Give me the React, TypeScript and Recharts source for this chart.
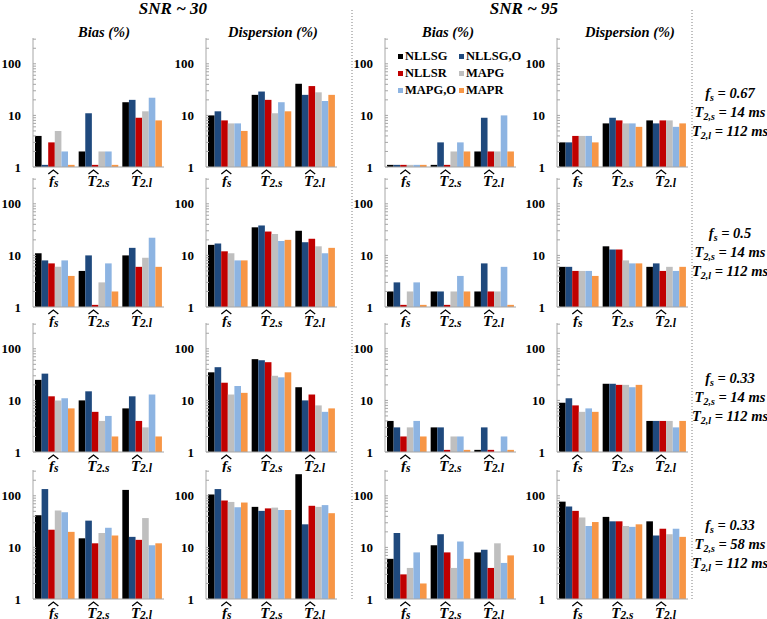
import React from 'react';
import { BarChart, Bar, XAxis, YAxis, Legend } from 'recharts';

const SERIES = ['NLLSG', 'NLLSG,O', 'NLLSR', 'MAPG', 'MAPG,O', 'MAPR'];
const COLORS = ['#000000', '#1F497D', '#C00000', '#BFBFBF', '#8DB4E2', '#F79646'];
const CATEGORIES = ['fs', 'T2s', 'T2l'];
const Y_TICKS = [1, 2, 3, 4, 5, 6, 7, 8, 9, 10, 20, 30, 40, 50, 60, 70, 80, 90, 100, 200, 300];
const Y_LABELS = [1, 10, 100];

const SNR_TITLES = ['SNR ~ 30', 'SNR ~ 95'];
const COLUMN_TITLES = ['Bias (%)', 'Dispersion (%)', 'Bias (%)', 'Dispersion (%)'];

// simulation parameters, one per row
const FS_VALUES = ['0.67', '0.5', '0.33', '0.33'];
const T2S_VALUES = ['14', '14', '14', '58'];
const T2L_VALUES = ['112', '112', '112', '112'];

// each panel: [f_s, T2,s, T2,l] x [NLLSG, NLLSG,O, NLLSR, MAPG, MAPG,O, MAPR]
const bias30Row1 = [[4, 1.1, 3, 5, 2, 1.1], [2, 11, 1.1, 2, 2, 1.1], [18, 20, 9, 12, 22, 8]];
const disp30Row1 = [[10, 12, 8, 7, 7, 5], [25, 29, 20, 11, 18, 12], [41, 25, 37, 28, 19, 25]];
const bias95Row1 = [[1.1, 1.1, 1.1, 1.1, 1.1, 1.1], [1.1, 3, 1.1, 2, 3, 2], [2, 9, 2, 2, 10, 2]];
const disp95Row1 = [[3, 3, 4, 4, 4, 3], [7, 9, 8, 7, 7, 6], [8, 7, 8, 8, 6, 7]];

const bias30Row2 = [[11, 8, 7, 6, 8, 4], [5, 10, 1.1, 3, 7, 2], [10, 14, 6, 9, 22, 6]];
const disp30Row2 = [[16, 17, 12, 11, 8, 8], [35, 38, 29, 26, 19, 20], [30, 18, 21, 15, 11, 14]];
const bias95Row2 = [[2, 3, 1.1, 2, 3, 1.1], [2, 2, 1.1, 2, 4, 2], [2, 7, 2, 2, 6, 1.1]];
const disp95Row2 = [[6, 6, 5, 5, 5, 4], [15, 13, 13, 8, 7, 7], [6, 7, 5, 6, 5, 6]];

const bias30Row3 = [[25, 33, 12, 10, 11, 7], [10, 15, 6, 4, 5, 2], [7, 12, 4, 3, 13, 2]];
const disp30Row3 = [[35, 44, 22, 13, 19, 14], [63, 60, 55, 30, 28, 35], [18, 10, 13, 8, 6, 7]];
const bias95Row3 = [[4, 3, 2, 3, 4, 2], [3, 3, 1.1, 2, 2, 1.1], [1.1, 3, 1.1, 1, 2, 1.1]];
const disp95Row3 = [[9, 11, 8, 6, 7, 6], [21, 21, 20, 20, 18, 20], [4, 4, 4, 4, 3, 4]];

const bias30Row4 = [[42, 135, 22, 52, 48, 20], [15, 33, 12, 19, 24, 17], [130, 16, 14, 37, 11, 12]];
const disp30Row4 = [[106, 135, 81, 76, 60, 74], [61, 51, 57, 59, 53, 53], [262, 28, 64, 61, 66, 46]];
const bias95Row4 = [[6, 19, 3, 4, 8, 2], [11, 18, 8, 4, 13, 6], [8, 9, 4, 12, 5, 7]];
const disp95Row4 = [[77, 62, 51, 38, 26, 31], [39, 32, 32, 26, 25, 28], [32, 17, 23, 18, 23, 16]];

const PANELS = [
  [bias30Row1, disp30Row1, bias95Row1, disp95Row1],
  [bias30Row2, disp30Row2, bias95Row2, disp95Row2],
  [bias30Row3, disp30Row3, bias95Row3, disp95Row3],
  [bias30Row4, disp30Row4, bias95Row4, disp95Row4],
];

const FONT = "'Liberation Serif', 'Times New Roman', serif";
const AXIS_GREY = '#A6A6A6';
const AXIS_X = [33, 206, 385, 557];
const ROW_BASE = [167, 307, 452, 599];
const PLOT_W = 131;
const PLOT_H = 129;
const Y_W = 40;
const X_H = 20;

function toRows(values: number[][]) {
  return CATEGORIES.map((cat, i) => {
    const row: Record<string, string | number> = { cat };
    SERIES.forEach((_, j) => {
      row[`s${j}`] = values[i][j];
    });
    return row;
  });
}

function LogTick({ x, y, payload }: any) {
  const v = payload.value;
  const major = Y_LABELS.includes(v);
  return (
    <g>
      <line x1={x} x2={x + 3} y1={y} y2={y} stroke={AXIS_GREY} />
      {major && (
        <text x={x - 12} y={y + 4.5} textAnchor="end" fontFamily={FONT} fontWeight="bold" fontSize={13} fill="#000">
          {v}
        </text>
      )}
    </g>
  );
}

function CatTick({ x, y, payload }: any) {
  const cat = payload.value;
  const main = cat === 'fs' ? 'f' : 'T';
  const sub = cat === 'fs' ? 's' : cat === 'T2s' ? '2,s' : '2,l';
  const mainW = main === 'f' ? 5.5 : 9.5;
  const subW = cat === 'fs' ? 6 : 13;
  const left = x - (mainW + subW) / 2;
  const hx = left + mainW / 2 + 1.5;
  return (
    <g>
      <path
        d={`M${hx - 5},${y + 7} L${hx},${y + 3} L${hx + 5},${y + 7}`}
        fill="none"
        stroke="#000"
        strokeWidth={1.3}
      />
      <text x={left} y={y + 18.5} fontFamily={FONT} fontStyle="italic" fontWeight="bold" fontSize={15} fill="#000">
        {main}
        <tspan fontSize={11.5} dy={1}>
          {sub}
        </tspan>
      </text>
    </g>
  );
}

const renderLegend = (props: any) => {
  const items = [...(props.payload || [])].sort(
    (a: any, b: any) => SERIES.indexOf(a.value) - SERIES.indexOf(b.value)
  );
  return (
    <div
      style={{
        display: 'grid',
        gridTemplateColumns: '61px 70px',
        rowGap: 3,
        fontFamily: FONT,
        fontWeight: 'bold',
        fontSize: 12.5,
        color: '#000',
      }}
    >
      {items.map((e: any) => (
        <div key={e.value} style={{ display: 'flex', alignItems: 'center', lineHeight: '14px', whiteSpace: 'nowrap' }}>
          <span style={{ width: 5, height: 5, background: e.color, marginRight: 2, display: 'inline-block' }} />
          {e.value}
        </div>
      ))}
    </div>
  );
};

function Panel({ values, row, col }: { values: number[][]; row: number; col: number }) {
  return (
    <div style={{ position: 'absolute', left: AXIS_X[col] - Y_W, top: ROW_BASE[row] - PLOT_H }}>
      <BarChart
        width={Y_W + PLOT_W}
        height={PLOT_H + X_H}
        data={toRows(values)}
        margin={{ top: 0, right: 0, bottom: 0, left: 0 }}
        barGap={0}
        style={{ overflow: 'visible' }}
      >
        <XAxis
          dataKey="cat"
          height={X_H}
          interval={0}
          tickLine={false}
          tickSize={0}
          tickMargin={0}
          axisLine={{ stroke: AXIS_GREY }}
          tick={(p: any) => <CatTick {...p} />}
        />
        <YAxis
          type="number"
          scale="log"
          domain={[1, 316]}
          allowDataOverflow
          ticks={Y_TICKS}
          interval={0}
          width={Y_W}
          tickLine={false}
          tickSize={0}
          tickMargin={0}
          axisLine={{ stroke: AXIS_GREY }}
          tick={(p: any) => <LogTick {...p} />}
        />
        {row === 0 && col === 2 && (
          <Legend
            layout="horizontal"
            verticalAlign="middle"
            align="center"
            wrapperStyle={{ top: 11, left: 53, width: 135 }}
            content={renderLegend}
          />
        )}
        {SERIES.map((s, j) => (
          <Bar key={s} dataKey={`s${j}`} name={s} fill={COLORS[j]} barSize={6.6} isAnimationActive={false} />
        ))}
      </BarChart>
    </div>
  );
}

function Params({ row }: { row: number }) {
  const c = ROW_BASE[row] - 69;
  const t = { fontFamily: FONT, fontStyle: 'italic', fontWeight: 'bold', fontSize: 14.5 } as const;
  return (
    <g fill="#000">
      <text x={730} y={c} textAnchor="middle" {...t}>
        f<tspan fontSize={10} dy={3}>s</tspan>
        <tspan dy={-3}> = {FS_VALUES[row]}</tspan>
      </text>
      <text x={730} y={c + 19} textAnchor="middle" {...t}>
        T<tspan fontSize={10} dy={3}>2,s</tspan>
        <tspan dy={-3}> = {T2S_VALUES[row]} ms</tspan>
      </text>
      <text x={730} y={c + 38} textAnchor="middle" {...t}>
        T<tspan fontSize={10} dy={3}>2,l</tspan>
        <tspan dy={-3}> = {T2L_VALUES[row]} ms</tspan>
      </text>
    </g>
  );
}

export default function App() {
  const snrX = [173, 524];
  const titleX = [104, 273, 448, 630];
  return (
    <div style={{ position: 'absolute', left: 0, top: 0, width: 767, height: 619, background: '#fff', overflow: 'hidden' }}>
      {PANELS.map((rowPanels, r) =>
        rowPanels.map((values, c) => <Panel key={`${r}-${c}`} values={values} row={r} col={c} />)
      )}
      <svg width={767} height={619} style={{ position: 'absolute', left: 0, top: 0, pointerEvents: 'none' }}>
        {SNR_TITLES.map((t, i) => (
          <text key={t} x={snrX[i]} y={14} textAnchor="middle" fontFamily={FONT} fontStyle="italic" fontWeight="bold" fontSize={17}>
            {t}
          </text>
        ))}
        {COLUMN_TITLES.map((t, i) => (
          <text key={i} x={titleX[i]} y={37} textAnchor="middle" fontFamily={FONT} fontStyle="italic" fontWeight="bold" fontSize={14.5}>
            {t}
          </text>
        ))}
        <line x1={352} x2={352} y1={10} y2={600} stroke="#808080" strokeDasharray="1 2" />
        <line x1={692} x2={692} y1={10} y2={600} stroke="#808080" strokeDasharray="1 2" />
        {FS_VALUES.map((_, r) => (
          <Params key={r} row={r} />
        ))}
      </svg>
    </div>
  );
}
